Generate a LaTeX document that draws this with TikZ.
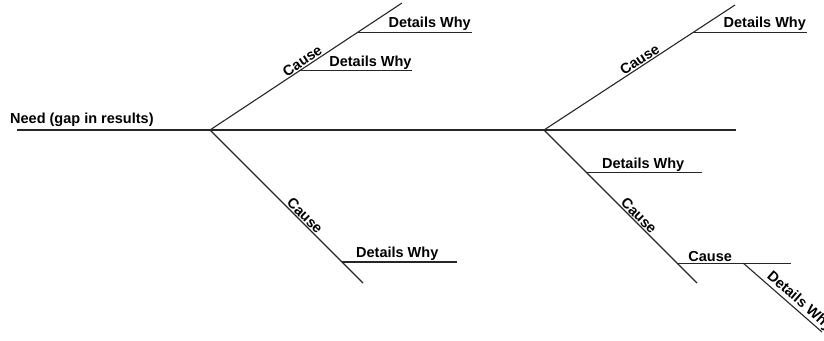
\documentclass[tikz,border=0pt]{standalone}
\usepackage{fontspec}
\setmainfont{Liberation Sans}
\usetikzlibrary{positioning}
\begin{document}
\begin{tikzpicture}[x=1pt,y=-1pt]
\tikzset{bone/.style={draw=black!85, line width=1.1pt},
	lbl/.style={font=\bfseries\fontsize{14.5}{16}\selectfont, inner sep=1pt}}
\useasboundingbox (0,0) rectangle (824,340);
				\coordinate (tail) at (17,130);
				\coordinate (fork1) at (210,130);
				\coordinate (fork2) at (544,130);
				\coordinate (head) at (736,130);
				\coordinate (up1) at (402,3);
				\coordinate (dn1) at (363,283);
				\coordinate (up2) at (735,5);
				\coordinate (dn2) at (697,283);
				\coordinate (subend) at (822,332);
				\node[lbl, anchor=south west] (need) at (9,128) {Need (gap in results)};
				\draw[bone] (tail) -- (fork1) -- (fork2) -- (head);
				\draw[bone] (fork1) -- node[lbl, sloped, above, pos=0.5] (cause1) {Cause}
					coordinate[pos=0.465] (why1) coordinate[pos=0.77] (why2) (up1);
				\draw[bone] (fork1) -- node[lbl, sloped, above, pos=0.59] (cause2) {Cause}
					coordinate[pos=0.863] (why3) (dn1);
				\draw[bone] (fork2) -- node[lbl, sloped, above, pos=0.52] (cause3) {Cause}
					coordinate[pos=0.78] (why4) (up2);
				\draw[bone] (fork2) -- coordinate[pos=0.28] (why5)
					node[lbl, sloped, above, pos=0.59] (cause4) {Cause}
					coordinate[pos=0.87] (sub) (dn2);
				\draw[bone] (why1) -- node[lbl, above, pos=0.63] (det1) {Details Why} ++(113,0);
				\draw[bone] (why2) -- node[lbl, above, pos=0.63] (det2) {Details Why} ++(114,0);
				\draw[bone] (why3) -- node[lbl, above, pos=0.48] (det3) {Details Why} ++(115,0);
				\draw[bone] (why4) -- node[lbl, above, pos=0.63] (det4) {Details Why} ++(114,0);
				\draw[bone] (why5) -- node[lbl, above, pos=0.49] (det5) {Details Why} ++(115,0);
				\draw[bone] (sub) -- coordinate[pos=0.58] (subfork)
					node[lbl, above, pos=0.29] (cause5) {Cause} ++(114,0);
				\draw[bone] (subfork) -- node[lbl, sloped, anchor=south west, pos=0.24] (det6) {Details Why} (subend);
\end{tikzpicture}
\end{document}
